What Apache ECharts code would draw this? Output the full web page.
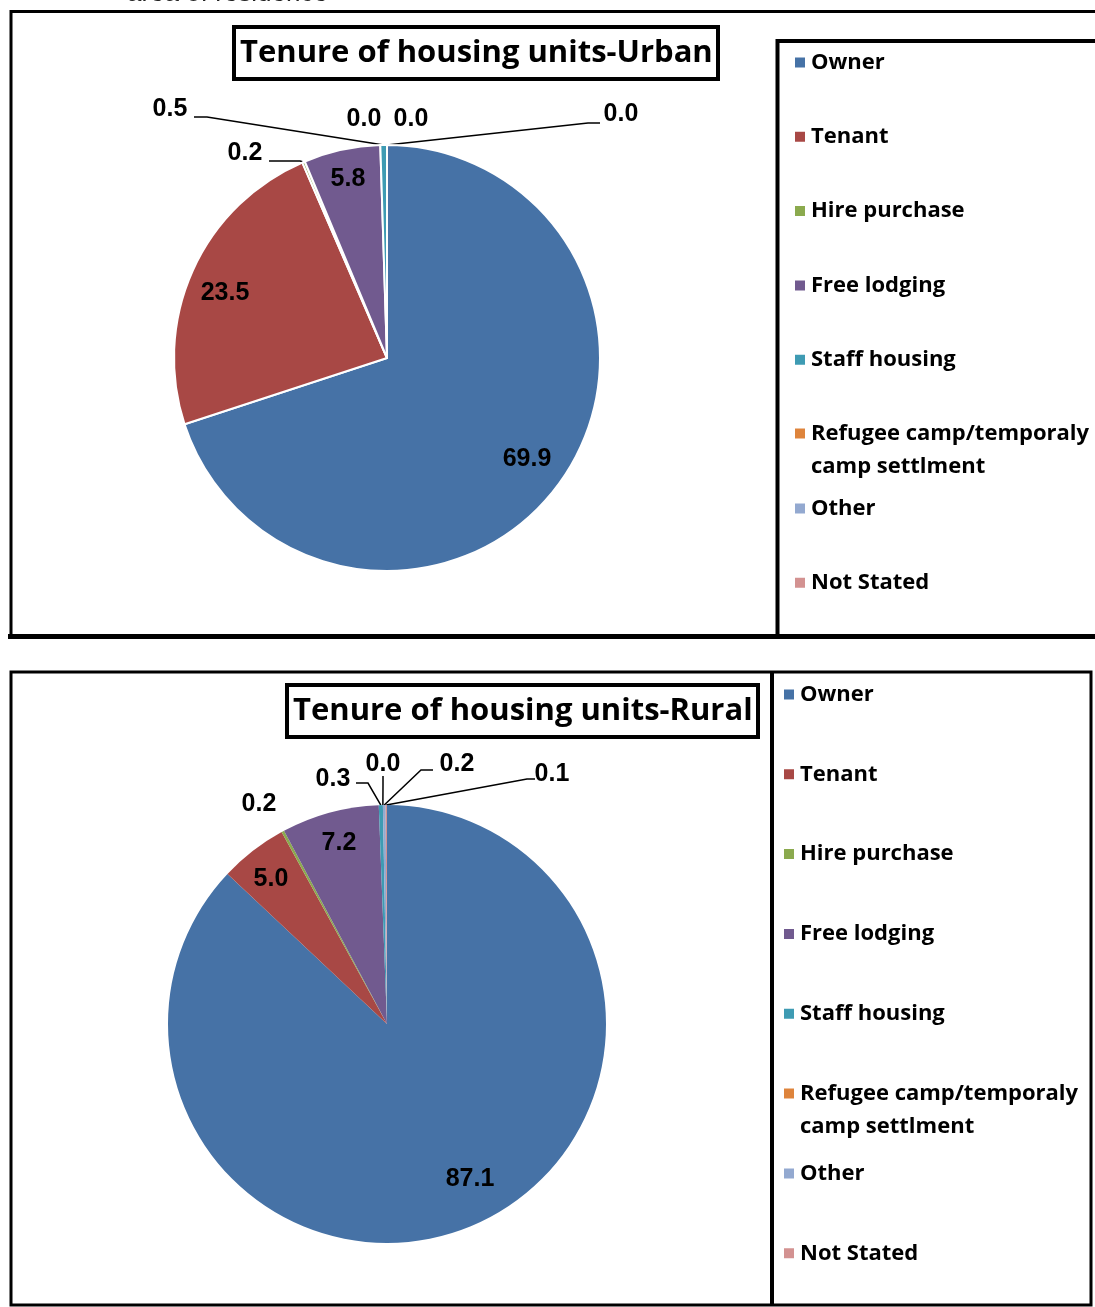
<!DOCTYPE html>
<html>
<head>
<meta charset="utf-8">
<script src="https://cdn.jsdelivr.net/npm/echarts@6/dist/echarts.min.js"></script>
<style>
  html, body { margin: 0; padding: 0; background: #fff; }
  #chart { width: 1095px; height: 1307px; }
</style>
</head>
<body>
<div id="chart"></div>
<script>
// ---------- DATA ----------
const categories = ['Owner', 'Tenant', 'Hire purchase', 'Free lodging', 'Staff housing',
  'Refugee camp/temporaly camp settlment', 'Other', 'Not Stated'];
const urbanValues = [69.9, 23.5, 0.2, 5.8, 0.5, 0.0, 0.0, 0.0];
const ruralValues = [87.1, 5.0, 0.2, 7.2, 0.3, 0.0, 0.2, 0.1];
const urbanTitle = 'Tenure of housing units-Urban';
const ruralTitle = 'Tenure of housing units-Rural';
// legend text: a leading blank line keeps the first text line level with the icon
const legendLabels = {
  'Refugee camp/temporaly camp settlment': '\nRefugee camp/temporaly\ncamp settlment'
};

// ---------- STYLE / LAYOUT ----------
const colors = ['#4672A6', '#A84845', '#8BAA4E', '#715A8F', '#3E9BB3', '#DE843C', '#93A9D0', '#D39291'];
const labelFont = { fontFamily: '"Liberation Sans", Arial, sans-serif', fontWeight: 'bold', fontSize: 25, color: '#000' };
const legendFont = { fontFamily: '"Open Sans", Lato, sans-serif', fontWeight: 'bold', fontSize: 22, color: '#000', lineHeight: 33 };
const titleStyle = { fontFamily: '"Open Sans", Lato, sans-serif', fontWeight: 'bold', fontSize: 31, lineHeight: 40, color: '#000' };

const urbanLayout = {
  center: [387, 358], radius: 213, border: 2,
  spots: {
    0: { x: 527, y: 459, inside: true },
    1: { x: 225, y: 293, inside: true },
    3: { x: 348, y: 179, inside: true },
    2: { x: 245, y: 153, line: [[300, 161], [269, 161]] },
    4: { x: 170, y: 109, line: [[207, 117], [194, 117]] },
    5: { x: 364, y: 119 },
    6: { x: 411, y: 119 },
    7: { x: 621, y: 114, line: [[588, 123], [600, 123]] }
  }
};
const ruralLayout = {
  center: [387, 1024], radius: 219, border: 0,
  spots: {
    0: { x: 470, y: 1179, inside: true },
    1: { x: 271, y: 879, inside: true },
    3: { x: 339, y: 843, inside: true },
    2: { x: 259, y: 804 },
    4: { x: 333, y: 779, line: [[368, 783], [356, 783]] },
    5: { x: 383, y: 764, line: [[383, 785], [383, 776]] },
    6: { x: 457, y: 764, line: [[421, 770], [433, 770]] },
    7: { x: 552, y: 774, line: [[527, 779], [535, 779]] }
  }
};

function buildData(values, layout) {
  return categories.map((name, i) => {
    const spot = layout.spots[i] || {};
    return {
      name: name,
      value: values[i],
      label: { position: spot.inside ? 'inside' : 'outside' },
      labelLine: { show: !spot.inside && !!spot.line }
    };
  });
}

function makeLabelLayout(layout) {
  return function (params) {
    const spot = layout.spots[params.dataIndex];
    if (!spot) return {};
    const out = { x: spot.x, y: spot.y, align: 'center', verticalAlign: 'middle' };
    if (spot.line && params.labelLinePoints) {
      out.labelLinePoints = [params.labelLinePoints[0], spot.line[0], spot.line[1]];
    }
    return out;
  };
}

function pieSeries(name, values, layout) {
  return {
    type: 'pie',
    name: name,
    center: layout.center,
    radius: layout.radius,
    startAngle: 90,
    clockwise: true,
    avoidLabelOverlap: false,
    animation: false,
    silent: true,
    itemStyle: { borderColor: '#fff', borderWidth: layout.border },
    label: Object.assign({ show: true, formatter: p => p.value.toFixed(1) }, labelFont),
    labelLine: { show: true, length: 10, length2: 10, lineStyle: { color: '#000', width: 1.5 } },
    labelLayout: makeLabelLayout(layout),
    emphasis: { disabled: true },
    data: buildData(values, layout)
  };
}

function legendBlock(names, left, top, gap) {
  return {
    orient: 'vertical',
    left: left,
    top: top,
    padding: 0,
    itemGap: gap,
    itemWidth: 12,
    itemHeight: 12,
    icon: 'rect',
    selectedMode: false,
    data: names,
    formatter: n => legendLabels[n] || n,
    textStyle: legendFont
  };
}

const chart = echarts.init(document.getElementById('chart'), null, { renderer: 'canvas' });
chart.setOption({
  animation: false,
  color: colors,
  title: [
    { text: urbanTitle, left: 234, top: 27, borderColor: '#000', borderWidth: 4, padding: [6, 6, 6, 6], textStyle: titleStyle },
    { text: ruralTitle, left: 287, top: 685, borderColor: '#000', borderWidth: 4, padding: [6, 6, 6, 6], textStyle: titleStyle }
  ],
  legend: [
    legendBlock(categories.slice(0, 5), 793, 46, 41.3),
    legendBlock([categories[5]], 793, 384, 0),
    legendBlock(categories.slice(6), 793, 492, 41.3),
    legendBlock(categories.slice(0, 5), 782, 678, 46.8),
    legendBlock([categories[5]], 782, 1044, 0),
    legendBlock(categories.slice(6), 782, 1157, 46.8)
  ],
  graphic: [
    { type: 'text', left: 127, top: -19, style: { text: 'area of residence', font: '26px "Liberation Sans", Arial, sans-serif', fill: '#222' } },
    // top frame
    { type: 'rect', shape: { x: 11, y: 11.5, width: 1100, height: 624 }, style: { fill: 'none', stroke: '#000', lineWidth: 3 } },
    { type: 'line', shape: { x1: 8, y1: 636.5, x2: 1100, y2: 636.5 }, style: { stroke: '#000', lineWidth: 5 } },
    { type: 'rect', shape: { x: 777.5, y: 41, width: 400, height: 595 }, style: { fill: 'none', stroke: '#000', lineWidth: 4 } },
    // bottom frame
    { type: 'rect', shape: { x: 11, y: 672, width: 1080, height: 633 }, style: { fill: 'none', stroke: '#000', lineWidth: 3 } },
    { type: 'line', shape: { x1: 772, y1: 672, x2: 772, y2: 1306 }, style: { stroke: '#000', lineWidth: 4 } }
  ],
  series: [
    pieSeries('Urban', urbanValues, urbanLayout),
    pieSeries('Rural', ruralValues, ruralLayout)
  ]
});
</script>
</body>
</html>
